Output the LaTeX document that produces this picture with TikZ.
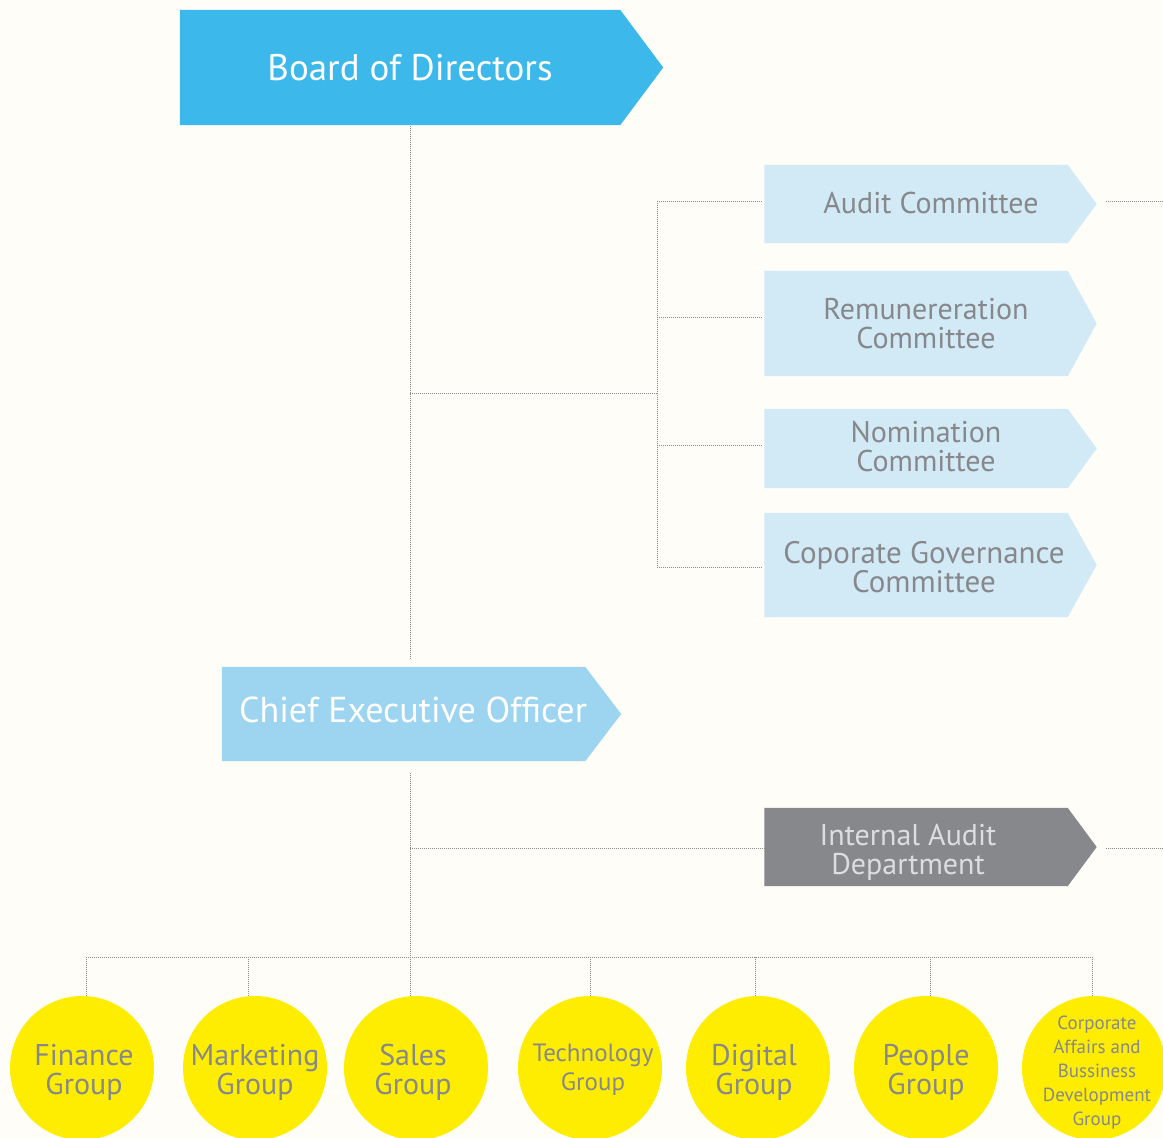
\documentclass[tikz,border=0pt]{standalone}
\usepackage{fontspec}
\setmainfont{PT Sans}
\definecolor{paper}{HTML}{FEFDF8}
\definecolor{boardblue}{HTML}{3DB8EA}
\definecolor{ceoblue}{HTML}{9DD4F0}
\definecolor{cmteblue}{HTML}{D2E9F6}
\definecolor{iagrey}{HTML}{87888C}
\definecolor{txtgrey}{HTML}{86888B}
\definecolor{iatext}{HTML}{DCDDDE}
\definecolor{grpyellow}{HTML}{FFED00}
\definecolor{linegrey}{HTML}{8C8C8C}
\tikzset{
  body/.style={inner sep=0pt, minimum width=#1},
  link/.style={draw=linegrey, line width=0.9pt, dash pattern=on 1pt off 1pt},
  bigtext/.style={font=\fontsize{37}{37}\selectfont, text=white, inner sep=0pt},
  cmtetext/.style={font=\fontsize{30}{29}\selectfont, text=txtgrey, align=center, inner sep=0pt},
  grp/.style={circle, fill=grpyellow, minimum size=144pt, inner sep=0pt},
  grptext/.style={text=txtgrey, align=center, inner sep=0pt, font=\fontsize{30}{29}\selectfont},
}
\begin{document}
\begin{tikzpicture}[x=1pt, y=-1pt]
\useasboundingbox[fill=paper] (0,0) rectangle (1163,1138);

% flag bodies (rectangular part)
\node[body=440pt, minimum height=115pt] (board) at (400,67.5) {};
\node[body=303pt, minimum height=78pt]  (audit) at (916,204) {};
\node[body=303pt, minimum height=105pt] (remun) at (916,323.5) {};
\node[body=303pt, minimum height=79pt]  (nomin) at (916,448.5) {};
\node[body=303pt, minimum height=104pt] (cgov)  at (916,565) {};
\node[body=363pt, minimum height=94pt]  (ceo)   at (403.5,714) {};
\node[body=303pt, minimum height=78pt]  (ia)    at (916,847) {};

% flag fills with pointed right end
\fill[boardblue] (board.north west) -- (board.north east) -- ([xshift=43pt]board.east) -- (board.south east) -- (board.south west) -- cycle;
\foreach \n in {audit,remun,nomin,cgov}
  \fill[cmteblue] (\n.north west) -- (\n.north east) -- ([xshift=29pt]\n.east) -- (\n.south east) -- (\n.south west) -- cycle;
\fill[ceoblue] (ceo.north west) -- (ceo.north east) -- ([xshift=36pt]ceo.east) -- (ceo.south east) -- (ceo.south west) -- cycle;
\fill[iagrey] (ia.north west) -- (ia.north east) -- ([xshift=29pt]ia.east) -- (ia.south east) -- (ia.south west) -- cycle;

% flag captions
\node[bigtext] (boardT) at (410,68) {Board of Directors};
\node[bigtext, font=\fontsize{36}{36}\selectfont] (ceoT) at (413,710) {Chief Executive Officer};
\node[cmtetext] (auditT) at (931,203) {Audit Committee};
\node[cmtetext] (remunT) at (926,324) {Remunereration\\Committee};
\node[cmtetext] (nominT) at (926,447) {Nomination\\Committee};
\node[cmtetext, font=\fontsize{31}{29}\selectfont] (cgovT) at (924,567) {Coporate Governance\\Committee};
\node[cmtetext, text=iatext] (iaT) at (908,852) {Internal Audit\\Department};

% group circles
\node[grp] (fin)   at (82,1068)   {};
\node[grp] (mkt)   at (255,1068)  {};
\node[grp] (sales) at (416,1068)  {};
\node[grp] (tech)  at (590,1068)  {};
\node[grp] (dig)   at (758,1068)  {};
\node[grp] (ppl)   at (926,1068)  {};
\node[grp] (corp)  at (1094,1068) {};

% group captions
\node[grptext] (finT)   at ([xshift=2pt,yshift=-4pt]fin.center)   {Finance\\Group};
\node[grptext] (mktT)   at ([yshift=-4pt]mkt.center)   {Marketing\\Group};
\node[grptext] (salesT) at ([xshift=-3pt,yshift=-4pt]sales.center) {Sales\\Group};
\node[grptext, font=\fontsize{25}{29}\selectfont] (techT) at ([xshift=3pt,yshift=-2pt]tech.center) {Technology\\Group};
\node[grptext] (digT)   at ([xshift=-4pt,yshift=-4pt]dig.center)   {Digital\\Group};
\node[grptext] (pplT)   at ([yshift=-4pt]ppl.center)   {People\\Group};
\node[grptext, font=\fontsize{19}{24}\selectfont] (corpT) at ([xshift=3pt,yshift=-5pt]corp.center) {Corporate\\Affairs and\\Bussiness\\Development\\Group};

% junctions
\coordinate (rim) at (1163,0);
\coordinate (cjoin) at (410,393);
\coordinate (cbus) at (657,393);
\coordinate (gbus) at (410,957);

% board to CEO and committee bus
\draw[link, shorten <=1pt, shorten >=7pt] ([xshift=10pt]board.south) -- ([xshift=6.5pt]ceo.north);
\draw[link] (cjoin) -- (cbus);
\coordinate (aIn) at ([yshift=3pt]audit.west);
\coordinate (rIn) at ([yshift=6.5pt]remun.west);
\coordinate (nIn) at ([yshift=3.5pt]nomin.west);
\coordinate (gIn) at ([yshift=-2pt]cgov.west);
\draw[link] (cbus |- aIn) -- (cbus |- gIn);
\foreach \c in {aIn,rIn,nIn,gIn}
  \draw[link] (cbus |- \c) -- ([xshift=-3pt]\c);

% outgoing ties at the right edge
\coordinate (aOut) at ([xshift=38pt,yshift=3pt]audit.east);
\draw[link] (aOut) -- (aOut -| rim);
\coordinate (iOut) at ([xshift=38pt,yshift=-1pt]ia.east);
\draw[link] (iOut) -- (iOut -| rim);

% CEO downwards
\draw[link, shorten <=12pt] ([xshift=6.5pt]ceo.south) -- ([xshift=-6pt]sales.north);
\draw[link] ([yshift=-1pt]ia.west -| gbus) -- ([yshift=-1pt]ia.west);

% group bus and drops
\draw[link] ([xshift=4pt]fin.north |- gbus) -- ([xshift=-2pt]corp.north |- gbus);
\draw[link] ([xshift=4pt]fin.north) -- ([xshift=4pt]fin.north |- gbus);
\draw[link] ([xshift=-7pt]mkt.north) -- ([xshift=-7pt]mkt.north |- gbus);
\draw[link] (tech.north) -- (tech.north |- gbus);
\draw[link] ([xshift=-3pt]dig.north) -- ([xshift=-3pt]dig.north |- gbus);
\draw[link] ([xshift=4pt]ppl.north) -- ([xshift=4pt]ppl.north |- gbus);
\draw[link] ([xshift=-2pt]corp.north) -- ([xshift=-2pt]corp.north |- gbus);
\end{tikzpicture}
\end{document}
